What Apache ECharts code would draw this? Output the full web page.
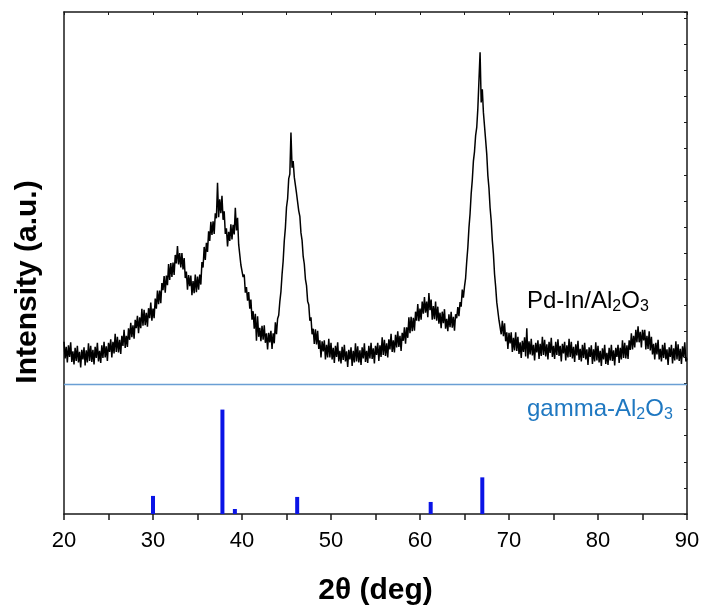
<!DOCTYPE html>
<html>
<head>
<meta charset="utf-8">
<script src="https://cdn.jsdelivr.net/npm/echarts@6/dist/echarts.min.js"></script>
<style>html,body{margin:0;padding:0;background:#fff;}#c{width:704px;height:611px;}</style>
</head>
<body>
<div id="c"></div>
<script>
// 2θ sampling grid for the measured pattern
const angleStart = 20;
const angleStep = 0.125;
const pdInIntensity = [
34.3,31.0,33.3,30.2,33.6,31.3,34.2,30.3,
32.4,29.8,33.1,30.5,33.5,30.2,32.3,29.2,
32.7,30.8,33.2,29.6,32.6,30.2,34.0,30.5,
33.5,30.3,32.7,29.8,33.3,31.1,34.1,30.4,
32.5,30.1,33.6,31.1,34.3,31.2,33.4,30.5,
34.1,32.3,34.8,31.2,34.3,32.0,35.9,32.3,
35.3,32.2,34.7,31.9,35.5,33.5,36.7,33.1,
35.5,33.3,37.0,34.7,38.1,35.2,37.6,34.9,
38.7,37.0,39.5,36.0,39.2,37.0,40.9,37.5,
40.7,37.6,40.1,37.3,41.0,39.0,42.1,38.5,
40.9,39.0,42.9,40.9,44.5,41.8,44.5,42.0,
46.0,44.6,47.4,44.1,47.5,45.6,49.8,46.6,
50.0,47.2,50.1,47.6,51.6,49.9,53.4,49.7,
52.0,49.1,52.0,48.7,51.0,47.0,48.3,44.7,
47.6,45.4,47.5,43.6,46.4,44.0,47.7,44.2,
47.3,44.7,47.7,45.7,50.2,49.1,53.2,50.6,
54.0,52.2,56.3,54.4,58.2,55.6,58.3,55.8,
59.9,58.9,66.0,59.1,62.7,59.9,63.4,58.6,
60.3,55.8,56.9,53.3,56.2,54.4,57.7,54.7,
57.6,55.7,61.0,56.5,59.0,53.7,53.8,49.6,
49.6,47.2,47.7,44.1,45.2,42.5,44.2,40.9,
42.7,38.7,40.4,36.9,39.9,34.5,39.4,35.3,
37.1,34.4,37.5,34.7,37.6,34.1,36.0,32.8,
36.1,34.2,36.5,32.9,36.0,34.0,38.2,35.8,
38.9,39.6,42.3,44.3,47.7,50.4,54.4,57.0,
61.1,62.8,66.8,67.7,76.0,69.0,70.3,67.1,
66.8,63.9,63.9,60.4,59.3,56.0,54.5,51.3,
49.8,46.8,45.5,42.4,41.7,38.5,39.2,35.8,
36.9,33.9,36.8,33.8,36.5,32.9,34.6,31.2,
34.4,32.4,34.6,30.8,33.7,31.2,34.9,31.2,
34.1,30.8,33.1,30.1,33.5,31.3,34.2,30.4,
32.5,30.0,33.3,30.7,33.7,30.4,32.4,29.3,
32.7,30.8,33.2,29.5,32.5,30.2,34.0,30.4,
33.4,30.2,32.6,29.7,33.2,31.0,34.0,30.3,
32.5,30.1,33.5,31.0,34.1,30.9,33.0,30.0,
33.5,31.7,34.1,30.5,33.6,31.3,35.2,31.7,
34.7,31.5,34.0,31.2,34.8,32.8,35.9,32.3,
34.6,32.2,35.7,33.2,36.4,33.3,35.5,32.5,
36.1,34.5,37.2,33.9,37.2,35.1,39.2,36.0,
39.3,36.4,39.1,36.5,40.3,38.5,41.8,38.4,
40.9,38.7,42.3,39.9,43.2,40.1,42.3,39.2,
44.0,40.6,42.7,38.7,41.4,38.8,42.3,38.5,
41.3,37.9,40.1,37.0,40.3,38.0,40.8,36.9,
38.9,36.4,39.8,37.2,40.3,37.1,39.3,36.5,
39.8,39.0,41.2,39.4,42.2,41.3,44.7,43.1,
45.3,47.0,50.3,53.1,57.0,59.8,63.8,66.5,
70.3,72.2,75.4,77.0,80.8,80.8,92.0,82.0,
84.6,80.0,79.8,74.5,71.7,67.4,64.9,61.0,
58.4,54.5,51.8,47.8,45.3,42.2,41.9,38.6,
38.9,35.8,38.5,35.4,38.0,34.4,36.2,32.9,
36.1,34.0,36.2,32.3,35.1,32.6,36.2,32.5,
35.3,31.9,34.2,31.1,34.5,32.3,35.2,31.4,
37.0,31.0,34.4,31.8,34.9,31.6,33.7,30.6,
34.1,32.2,34.6,30.9,33.9,31.5,35.3,31.7,
34.7,31.4,33.8,30.8,34.3,32.1,35.1,31.3,
33.5,30.9,34.3,31.7,34.8,31.5,33.5,30.4,
33.9,32.0,34.3,30.6,33.6,31.2,34.9,31.3,
34.3,31.0,33.3,30.3,33.8,31.6,34.5,30.7,
32.9,30.4,33.7,31.1,34.1,30.8,32.8,29.7,
33.2,31.3,33.6,29.9,32.8,30.4,34.2,30.6,
33.5,30.2,32.5,29.5,33.0,30.8,33.7,29.9,
32.1,29.7,33.1,30.6,33.7,30.5,32.6,29.6,
33.1,31.3,33.7,30.1,33.1,30.8,34.6,31.1,
34.1,31.0,33.6,30.9,34.6,32.7,36.0,32.8,
35.5,33.2,36.7,34.2,37.4,34.2,36.3,33.2,
36.7,34.6,36.7,32.8,35.5,32.9,36.4,32.6,
35.3,31.8,33.9,30.8,34.1,31.8,34.7,30.8,
32.9,30.4,33.7,31.1,34.1,30.8,32.8,29.7,
33.2,31.3,33.7,30.0,33.0,30.6,34.4,30.8,
33.8,30.5,32.9,29.9,33.4,31.2,34.2,30.4,
31.0
];
// gamma-Al2O3 reference pattern (stick positions in 2θ and relative heights)
const refAngles  = [30.0, 37.8, 39.2, 46.2, 61.2, 67.0];
const refHeights = [3.6, 20.8, 1.0, 3.4, 2.4, 7.3];
// separator between the two panels
const separatorLevel = 25.8;
// x axis range and tick step
const xMin = 20, xMax = 90, xInterval = 10;

const pdInData = pdInIntensity.map((v, i) => [angleStart + i * angleStep, v]);
const refData = refAngles.map((a, i) => [a, refHeights[i]]);

const chart = echarts.init(document.getElementById('c'), null, {renderer: 'canvas'});
const axisColor = '#1a1a1a';
const font = 'Liberation Sans, Arial, Helvetica, sans-serif';

function labelRich(color) {
  return {
    n: {fontSize: 24, lineHeight: 26, fontFamily: font, fill: color, color: color, verticalAlign: 'top'},
    s: {fontSize: 16, lineHeight: 16, padding: [10, 0, 0, 0], fontFamily: font, fill: color, color: color, verticalAlign: 'top'}
  };
}

chart.setOption({
  backgroundColor: '#fff',
  animation: false,
  grid: {left: 64, right: 17, top: 12, bottom: 95, containLabel: false},
  xAxis: [{
    type: 'value', min: xMin, max: xMax, interval: xInterval,
    position: 'bottom',
    name: '2θ (deg)', nameLocation: 'middle', nameGap: 62,
    nameTextStyle: {fontSize: 30, fontWeight: 'bold', color: '#000', fontFamily: font},
    axisLine: {show: true, lineStyle: {color: axisColor, width: 1.5}},
    axisTick: {show: true, inside: false, length: 6, lineStyle: {color: axisColor, width: 1.5}},
    minorTick: {show: true, splitNumber: 2, length: 6, lineStyle: {color: axisColor, width: 1.5}},
    axisLabel: {fontSize: 22, color: '#000', margin: 16, fontFamily: font},
    splitLine: {show: false}
  }, {
    type: 'value', min: xMin, max: xMax, interval: 5,
    position: 'top',
    axisLine: {show: true, onZero: false, lineStyle: {color: axisColor, width: 1.5}},
    axisTick: {show: true, inside: true, length: 3, lineStyle: {color: axisColor, width: 1}},
    axisLabel: {show: false},
    splitLine: {show: false}
  }],
  yAxis: [{
    type: 'value', min: 0, max: 100,
    position: 'left',
    axisLine: {show: true, onZero: false, lineStyle: {color: axisColor, width: 1.5}},
    axisTick: {show: false},
    axisLabel: {show: false},
    splitLine: {show: false}
  }, {
    type: 'value', min: 0, max: 19.24, interval: 1,
    position: 'right',
    axisLine: {show: true, onZero: false, lineStyle: {color: axisColor, width: 1.5}},
    axisTick: {show: true, inside: true, length: 3, lineStyle: {color: axisColor, width: 1}},
    axisLabel: {show: false},
    splitLine: {show: false}
  }],
  series: [{
    name: 'Pd-In/Al2O3', type: 'line', data: pdInData,
    xAxisIndex: 0, yAxisIndex: 0,
    showSymbol: false, symbol: 'none',
    lineStyle: {color: '#000', width: 1.5},
    z: 3
  }, {
    name: 'separator', type: 'line',
    data: [[xMin, separatorLevel], [xMax, separatorLevel]],
    xAxisIndex: 0, yAxisIndex: 0,
    showSymbol: false, symbol: 'none',
    lineStyle: {color: '#6a9fd4', width: 1.5},
    z: 2
  }, {
    name: 'gamma-Al2O3', type: 'bar', data: refData,
    xAxisIndex: 0, yAxisIndex: 0,
    barWidth: 4,
    itemStyle: {color: '#0a14e6'},
    z: 2
  }],
  graphic: [{
    type: 'text', left: 527, top: 289,
    style: {text: '{n|Pd-In/Al}{s|2}{n|O}{s|3}', rich: labelRich('#000')}
  }, {
    type: 'text', left: 527, top: 397,
    style: {text: '{n|gamma-Al}{s|2}{n|O}{s|3}', rich: labelRich('#1f78c1')}
  }, {
    type: 'text', x: 28, y: 282, rotation: Math.PI / 2,
    style: {
      text: 'Intensity (a.u.)', fontSize: 30, fontWeight: 'bold', fontFamily: font,
      fill: '#000', align: 'center', verticalAlign: 'middle'
    }
  }]
});
</script>
</body>
</html>
